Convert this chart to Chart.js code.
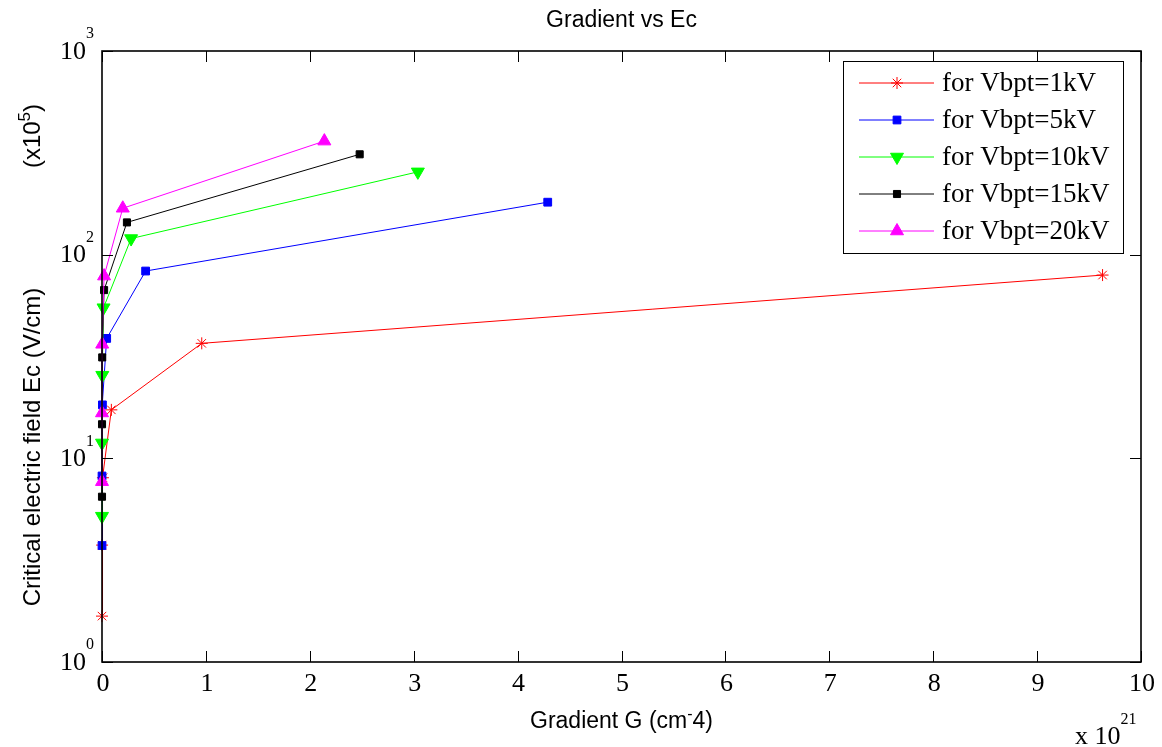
<!DOCTYPE html>
<html>
<head>
<meta charset="utf-8">
<script src="https://cdn.jsdelivr.net/npm/chart.js@4"></script>
<style>
  body { margin: 0; background: #fff; }
  #wrap { width: 1162px; height: 747px; position: relative; }
</style>
</head>
<body>
<div id="wrap"><canvas id="chart"></canvas></div>
<script>
// gradient G (x 1e21 cm^-4) and critical field Ec (x 1e5 V/cm)
const gRed   = [0.0001, 0.001, 0.009, 0.09, 0.96, 9.63];
const ecRed  = [1.68, 3.75, 8.03, 17.3, 36.7, 79.4];
const gBlue  = [0.00004, 0.0004, 0.004, 0.045, 0.42, 4.29];
const ecBlue = [3.73, 8.19, 18.3, 38.8, 83.1, 181];
const gGreen = [0.00003, 0.0003, 0.003, 0.015, 0.28, 3.04];
const ecGreen = [5.2, 11.9, 25.6, 54.9, 120, 255];
const gBlack = [0.00002, 0.0002, 0.002, 0.02, 0.24, 2.48];
const ecBlack = [6.48, 14.7, 31.3, 67.0, 144, 311];
const gMag   = [0.00002, 0.0002, 0.002, 0.02, 0.2, 2.14];
const ecMag  = [7.68, 16.7, 36.3, 78.5, 169, 361];

const seriesLabels = ['for Vbpt=1kV', 'for Vbpt=5kV', 'for Vbpt=10kV', 'for Vbpt=15kV', 'for Vbpt=20kV'];
const xTicks = [0, 1, 2, 3, 4, 5, 6, 7, 8, 9, 10];
const yTicks = [1, 10, 100, 1000];

const toPts = (xs, ys) => xs.map((x, i) => ({ x: x, y: ys[i] }));

const mkSet = (label, xs, ys, color, style, radius, rotation, order) => ({
    label: label,
    data: toPts(xs, ys),
    borderColor: color,
    backgroundColor: color,
    pointBackgroundColor: color,
    pointBorderColor: color,
    pointStyle: style,
    pointRadius: radius,
    pointRotation: rotation,
    pointBorderWidth: 1,
    borderWidth: 1,
    tension: 0,
    fill: false,
    clip: false,
    order: order
});

const datasets = [
    mkSet(seriesLabels[0], gRed, ecRed, '#ff0000', 'star', 6, 0, 5),
    mkSet(seriesLabels[1], gBlue, ecBlue, '#0000ff', 'rect', 5.5, 0, 4),
    mkSet(seriesLabels[2], gGreen, ecGreen, '#00ff00', 'triangle', 7.5, 180, 3),
    mkSet(seriesLabels[3], gBlack, ecBlack, '#000000', 'rect', 5, 0, 2),
    mkSet(seriesLabels[4], gMag, ecMag, '#ff00ff', 'triangle', 7.5, 0, 1)
];

const SERIF = '"Liberation Serif", "Times New Roman", serif';
const SANS = '"Liberation Sans", Arial, sans-serif';

// text with a raised small part, e.g. 10^3
function supText(ctx, parts, x, y, align) {
    // parts: [[text, isSup], ...]
    const big = '26px ' + SERIF;
    const small = '16px ' + SERIF;
    let w = 0;
    parts.forEach(p => { ctx.font = p[1] ? small : big; w += ctx.measureText(p[0]).width; });
    let cx = align === 'right' ? x - w : (align === 'center' ? x - w / 2 : x);
    ctx.textAlign = 'left';
    ctx.textBaseline = 'middle';
    parts.forEach(p => {
        ctx.font = p[1] ? small : big;
        ctx.fillText(p[0], cx, p[1] ? y - 17 : y);
        cx += ctx.measureText(p[0]).width;
    });
}

function mixedText(ctx, parts, x, y, size, supSize, rise, font) {
    let w = 0;
    parts.forEach(p => { ctx.font = (p[1] ? supSize : size) + 'px ' + font; w += ctx.measureText(p[0]).width; });
    let cx = x - w / 2;
    ctx.textAlign = 'left';
    ctx.textBaseline = 'middle';
    parts.forEach(p => {
        ctx.font = (p[1] ? supSize : size) + 'px ' + font;
        ctx.fillText(p[0], cx, p[1] ? y - rise : y);
        cx += ctx.measureText(p[0]).width;
    });
}

const decorPlugin = {
    id: 'decor',
    beforeDraw(chart) {
        const ctx = chart.ctx;
        ctx.save();
        ctx.fillStyle = '#fff';
        ctx.fillRect(0, 0, chart.width, chart.height);
        ctx.restore();
    },
    afterDraw(chart) {
        const ctx = chart.ctx;
        const a = chart.chartArea;
        const xs = chart.scales.x, ys = chart.scales.y;
        ctx.save();
        ctx.fillStyle = '#000';
        ctx.strokeStyle = '#000';

        // box
        ctx.lineWidth = 1.6;
        ctx.strokeRect(a.left, a.top, a.right - a.left, a.bottom - a.top);

        // inward ticks
        ctx.lineWidth = 1;
        ctx.beginPath();
        xTicks.forEach(t => {
            const px = Math.round(xs.getPixelForValue(t)) + 0.5;
            ctx.moveTo(px, a.bottom); ctx.lineTo(px, a.bottom - 11);
            ctx.moveTo(px, a.top); ctx.lineTo(px, a.top + 11);
        });
        yTicks.forEach(t => {
            const py = Math.round(ys.getPixelForValue(t)) + 0.5;
            ctx.moveTo(a.left, py); ctx.lineTo(a.left + 11, py);
            ctx.moveTo(a.right, py); ctx.lineTo(a.right - 11, py);
        });
        ctx.stroke();

        // tick labels
        ctx.font = '26px ' + SERIF;
        ctx.textAlign = 'center';
        ctx.textBaseline = 'middle';
        xTicks.forEach(t => {
            ctx.fillText(String(t), xs.getPixelForValue(t) + 1, a.bottom + 22);
        });
        yTicks.forEach(t => {
            const py = ys.getPixelForValue(t);
            const e = Math.round(Math.log10(t));
            ctx.font = '26px ' + SERIF;
            ctx.textAlign = 'right';
            ctx.fillText('10', a.left - 16, py + 1);
            ctx.font = '16px ' + SERIF;
            ctx.textAlign = 'left';
            ctx.fillText(String(e), a.left - 16, py - 17);
        });

        // exponent of x axis
        supText(ctx, [['x 10', false], ['21', true]], 1075, 737, 'left');

        // title and axis labels
        ctx.fillStyle = '#000';
        ctx.font = '23px ' + SANS;
        ctx.textAlign = 'center';
        ctx.textBaseline = 'middle';
        ctx.fillText('Gradient vs Ec', (a.left + a.right) / 2, 21);
        mixedText(ctx, [['Gradient G (cm', false], ['-', true], ['4)', false]], (a.left + a.right) / 2, 722, 23, 16, 7, SANS);

        ctx.save();
        ctx.translate(33, 447);
        ctx.rotate(-Math.PI / 2);
        ctx.font = '24px ' + SANS;
        ctx.textAlign = 'center';
        ctx.fillText('Critical electric field Ec (V/cm)', 0, 0);
        ctx.restore();

        ctx.save();
        ctx.translate(33, 136);
        ctx.rotate(-Math.PI / 2);
        mixedText(ctx, [['(x10', false], ['5', true], [')', false]], 0, 0, 24, 17, 8, SANS);
        ctx.restore();

        // legend
        const lx = 843, ly = 61, lw = 280, lh = 192;
        ctx.fillStyle = '#fff';
        ctx.fillRect(lx, ly, lw, lh);
        ctx.strokeStyle = '#000';
        ctx.lineWidth = 1;
        ctx.strokeRect(lx + 0.5, ly + 0.5, lw, lh);
        chart.data.datasets.forEach((ds, i) => {
            const yy = 83 + i * 37;
            ctx.strokeStyle = ds.borderColor;
            ctx.lineWidth = 1;
            ctx.beginPath();
            ctx.moveTo(859, yy); ctx.lineTo(934, yy);
            ctx.stroke();
            ctx.fillStyle = ds.backgroundColor;
            Chart.helpers.drawPoint(ctx, {
                pointStyle: ds.pointStyle,
                rotation: ds.pointRotation,
                radius: ds.pointRadius,
                borderWidth: 1
            }, 897, yy);
            ctx.fillStyle = '#000';
            ctx.font = '27px ' + SERIF;
            ctx.textAlign = 'left';
            ctx.textBaseline = 'middle';
            ctx.fillText(ds.label, 942, yy + 1);
        });
        ctx.restore();
    }
};

new Chart(document.getElementById('chart').getContext('2d'), {
    type: 'line',
    data: { datasets: datasets },
    options: {
        responsive: true,
        maintainAspectRatio: false,
        animation: false,
        layout: { padding: { left: 102, top: 51, right: 21, bottom: 85 } },
        scales: {
            x: {
                type: 'linear',
                min: 0,
                max: 10,
                grid: { display: false, drawTicks: false },
                border: { display: false },
                ticks: { display: false }
            },
            y: {
                type: 'logarithmic',
                min: 1,
                max: 1000,
                grid: { display: false, drawTicks: false },
                border: { display: false },
                ticks: { display: false }
            }
        },
        plugins: {
            legend: { display: false },
            tooltip: { enabled: false },
            title: { display: false }
        }
    },
    plugins: [decorPlugin]
});
</script>
</body>
</html>
